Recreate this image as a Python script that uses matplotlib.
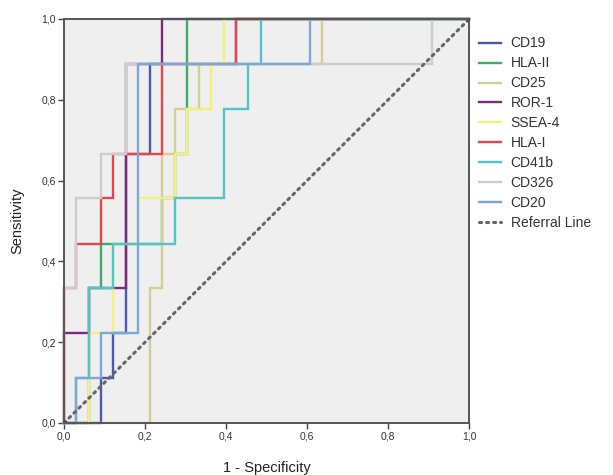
import matplotlib
matplotlib.use("Agg")
import matplotlib.pyplot as plt

plt.rcParams["font.family"] = ["Liberation Sans", "DejaVu Sans"]

# ROC curve vertices (1 - specificity, sensitivity)
labels = ["CD19", "HLA-II", "CD25", "ROR-1", "SSEA-4", "HLA-I", "CD41b", "CD326", "CD20"]
colors = ["#4A5AA8", "#3FA86A", "#D3CE97", "#7C287D", "#F5F07A", "#E8454A", "#52C4C6", "#CDCDCD", "#7EA8D2"]

cd19_fpr = [0, 0.091, 0.091, 0.121, 0.121, 0.152, 0.152, 0.212, 0.212, 0.424, 0.424, 1.0]
cd19_tpr = [0, 0, 0.111, 0.111, 0.222, 0.222, 0.667, 0.667, 0.889, 0.889, 1.0, 1.0]

hla2_fpr = [0, 0.061, 0.061, 0.091, 0.091, 0.242, 0.242, 0.273, 0.273, 0.303, 0.303, 1.0]
hla2_tpr = [0, 0, 0.333, 0.333, 0.444, 0.444, 0.556, 0.556, 0.667, 0.667, 1.0, 1.0]

cd25_fpr = [0, 0.212, 0.212, 0.242, 0.242, 0.273, 0.273, 0.333, 0.333, 0.636, 0.636, 1.0]
cd25_tpr = [0, 0, 0.333, 0.333, 0.667, 0.667, 0.778, 0.778, 0.889, 0.889, 1.0, 1.0]

ror1_fpr = [0, 0, 0.061, 0.061, 0.152, 0.152, 0.242, 0.242, 1.0]
ror1_tpr = [0, 0.222, 0.222, 0.333, 0.333, 0.889, 0.889, 1.0, 1.0]

ssea4_fpr = [0, 0.061, 0.061, 0.121, 0.121, 0.182, 0.182, 0.273, 0.273, 0.303, 0.303, 0.364, 0.364, 0.394, 0.394, 1.0]
ssea4_tpr = [0, 0, 0.222, 0.222, 0.444, 0.444, 0.556, 0.556, 0.667, 0.667, 0.778, 0.778, 0.889, 0.889, 1.0, 1.0]

hla1_fpr = [0, 0, 0.030, 0.030, 0.091, 0.091, 0.121, 0.121, 0.242, 0.242, 0.424, 0.424, 1.0]
hla1_tpr = [0, 0.333, 0.333, 0.444, 0.444, 0.556, 0.556, 0.667, 0.667, 0.889, 0.889, 1.0, 1.0]

cd41b_fpr = [0, 0.030, 0.030, 0.061, 0.061, 0.121, 0.121, 0.273, 0.273, 0.394, 0.394, 0.455, 0.455, 0.485, 0.485, 1.0]
cd41b_tpr = [0, 0, 0.111, 0.111, 0.333, 0.333, 0.444, 0.444, 0.556, 0.556, 0.778, 0.778, 0.889, 0.889, 1.0, 1.0]

cd326_fpr = [0, 0, 0.030, 0.030, 0.091, 0.091, 0.152, 0.152, 0.909, 0.909, 1.0]
cd326_tpr = [0, 0.333, 0.333, 0.556, 0.556, 0.667, 0.667, 0.889, 0.889, 1.0, 1.0]

cd20_fpr = [0, 0.030, 0.030, 0.091, 0.091, 0.182, 0.182, 0.606, 0.606, 1.0]
cd20_tpr = [0, 0, 0.111, 0.111, 0.222, 0.222, 0.889, 0.889, 1.0, 1.0]

ref_x = [0, 1]
ref_y = [0, 1]

tick_vals = [0.0, 0.2, 0.4, 0.6, 0.8, 1.0]
tick_labels = ["0,0", "0,2", "0,4", "0,6", "0,8", "1,0"]

curves = [(cd19_fpr, cd19_tpr), (hla2_fpr, hla2_tpr), (cd25_fpr, cd25_tpr),
          (ror1_fpr, ror1_tpr), (ssea4_fpr, ssea4_tpr), (hla1_fpr, hla1_tpr),
          (cd41b_fpr, cd41b_tpr), (cd326_fpr, cd326_tpr), (cd20_fpr, cd20_tpr)]

fig = plt.figure(figsize=(6.13, 4.75), dpi=100)
ax = fig.add_axes([0.1044, 0.1095, 0.661, 0.8505])
ax.set_facecolor("#EFEFEF")

handles = []
for (fx, ty), lab, col in zip(curves, labels, colors):
    h, = ax.plot(fx, ty, color=col, lw=1.7, label=lab, solid_joinstyle="miter", clip_on=False)
    handles.append(h)

ref, = ax.plot(ref_x, ref_y, color="#666666", lw=2.2, linestyle=(0, (0.7, 1.6)),
               dash_capstyle="round", label="Referral Line")
handles.append(ref)
ax.plot(ref_x, ref_y, linestyle="none", marker="s", markersize=3.5, color="#444444")

ax.set_xlim(0, 1)
ax.set_ylim(0, 1)
ax.set_xticks(tick_vals)
ax.set_xticklabels(tick_labels)
ax.set_yticks(tick_vals)
ax.set_yticklabels(tick_labels)
ax.tick_params(axis="both", direction="out", length=4, width=1.0, colors="#444444",
               labelsize=7.5, labelcolor="#333333", pad=2)
for s in ax.spines.values():
    s.set_color("#555555")
    s.set_linewidth(1.4)

ax.set_xlabel("1 - Specificity", fontsize=10.5, color="#222222", labelpad=14)
ax.set_ylabel("Sensitivity", fontsize=10.5, color="#222222", labelpad=12)

leg = fig.legend(handles=handles, loc="upper left", bbox_to_anchor=(0.772, 0.935),
                 frameon=False, fontsize=10, handlelength=1.6, handletextpad=0.7,
                 labelspacing=0.43, borderaxespad=0)
for t in leg.get_texts():
    t.set_color("#333333")

fig.savefig("out.png", dpi=100, facecolor="white")
